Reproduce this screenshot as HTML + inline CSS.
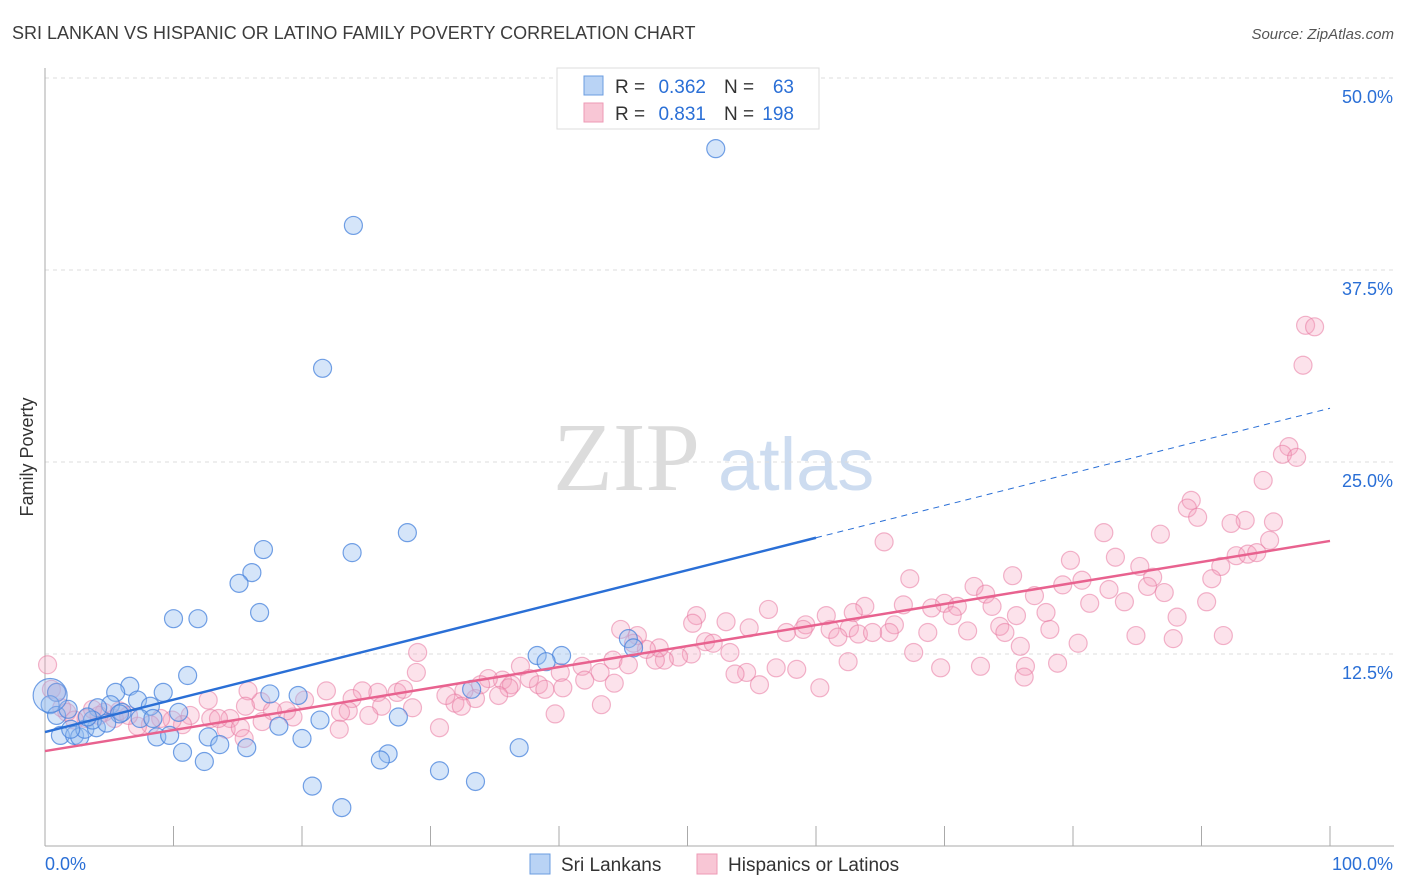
<!DOCTYPE html>
<html><head><meta charset="utf-8"><style>
body{margin:0;background:#fff;font-family:"Liberation Sans",sans-serif;}
svg{display:block}
</style></head><body>
<svg id="chart" width="1406" height="892">
<text x="12" y="39" font-size="18" fill="#3c3c3c">SRI LANKAN VS HISPANIC OR LATINO FAMILY POVERTY CORRELATION CHART</text>
<text x="1394" y="39" font-size="15" fill="#555" text-anchor="end" font-style="italic">Source: ZipAtlas.com</text>
<text transform="translate(33,457) rotate(-90)" font-size="18" fill="#333" text-anchor="middle">Family Poverty</text>
<text x="553" y="490" font-size="98" fill="#dcdcdc" font-family="Liberation Serif,serif">ZIP</text>
<text x="718" y="490" font-size="74" fill="#cddcf0">atlas</text>
<g id="grid"></g><g id="axes"></g><g id="pts"></g><g id="lines"></g>
<g>
<rect x="557" y="68" width="262" height="61" fill="#fff" stroke="#ddd"/>
<rect x="584" y="76" width="19" height="19" fill="#b9d3f5" stroke="#6b9de0"/>
<rect x="584" y="103" width="19" height="19" fill="#f8c6d5" stroke="#ee9ab5"/>
<text x="615" y="93" font-size="19" fill="#333">R =</text>
<text x="706" y="93" font-size="19" fill="#2a6fd6" text-anchor="end">0.362</text>
<text x="724" y="93" font-size="19" fill="#333">N =</text>
<text x="794" y="93" font-size="19" fill="#2a6fd6" text-anchor="end">63</text>
<text x="615" y="120" font-size="19" fill="#333">R =</text>
<text x="706" y="120" font-size="19" fill="#2a6fd6" text-anchor="end">0.831</text>
<text x="724" y="120" font-size="19" fill="#333">N =</text>
<text x="794" y="120" font-size="19" fill="#2a6fd6" text-anchor="end">198</text>
</g>
<g>
<rect x="530" y="854" width="20" height="20" fill="#b9d3f5" stroke="#6b9de0"/>
<text x="561" y="871" font-size="19" fill="#333">Sri Lankans</text>
<rect x="697" y="854" width="20" height="20" fill="#f8c6d5" stroke="#ee9ab5"/>
<text x="728" y="871" font-size="19" fill="#333">Hispanics or Latinos</text>
</g>
</svg>
<script>
const yTicks=[12.5,25.0,37.5,50.0];
const xTickLabels=["0.0%","100.0%"];
const blueX=[52.2,24.0,21.6,28.2,23.9,17.0,16.1,15.1,16.7,10.0,11.9,11.1,6.6,5.5,9.2,7.2,5.1,4.1,8.2,10.4,6.0,7.4,8.4,0.9,0.4,0.9,1.8,1.2,2.3,2.7,3.1,4.0,3.7,8.7,9.7,12.7,10.7,12.4,13.6,15.7,17.5,19.7,18.2,20.0,21.4,27.5,33.2,38.3,40.2,39.0,45.4,45.8,36.9,26.7,26.1,30.7,33.5,20.8,23.1,3.3,5.8,2.0,4.8];
const blueY=[45.4,40.4,31.1,20.4,19.1,19.3,17.8,17.1,15.2,14.8,14.8,11.1,10.4,10.0,10.0,9.5,9.2,9.0,9.1,8.7,8.7,8.3,8.3,10.0,9.2,8.5,8.9,7.2,7.2,7.1,7.6,7.7,8.2,7.1,7.2,7.1,6.1,5.5,6.6,6.4,9.9,9.8,7.8,7.0,8.2,8.4,10.2,12.4,12.4,12.0,13.5,12.9,6.4,6.0,5.6,4.9,4.2,3.9,2.5,8.4,8.6,7.6,8.0];
const pinkX=[98.1,98.8,97.9,96.8,96.3,97.4,94.8,89.2,88.9,89.7,93.4,92.3,95.6,82.4,86.8,65.3,95.3,92.7,93.6,94.3,91.5,83.3,79.8,85.2,90.8,86.2,85.8,87.1,80.7,82.8,79.2,81.3,84.0,77.0,75.3,72.3,73.2,70.0,71.0,67.3,66.8,63.8,62.9,60.8,62.6,61.1,63.3,59.2,59.0,66.1,69.0,70.6,73.7,77.9,75.6,74.3,74.7,71.8,68.7,78.2,80.4,75.9,67.6,65.7,64.4,61.7,57.7,56.3,54.8,53.0,50.7,50.4,51.4,52.0,50.3,53.3,49.3,48.2,47.5,47.8,46.8,46.1,44.8,45.8,44.2,45.4,41.8,43.2,44.3,42.0,40.1,40.3,38.4,38.9,37.0,35.6,36.3,37.7,36.1,34.5,35.3,33.5,33.9,32.6,31.9,32.4,31.2,29.0,28.9,28.6,27.4,27.9,25.9,26.2,24.7,23.9,23.6,25.2,23.0,21.9,20.2,19.3,18.8,16.8,17.7,15.8,16.9,15.6,14.4,14.1,12.9,12.7,13.5,11.3,10.7,9.9,9.0,8.2,7.2,6.5,5.4,4.6,4.2,3.2,1.7,1.3,0.5,0.2,0.9,2.3,3.7,5.8,15.2,15.5,22.9,30.7,39.7,43.3,60.3,54.6,55.6,53.7,56.9,58.5,62.5,69.7,72.8,76.3,78.8,76.2,84.9,87.8,91.7,90.4,88.1];
const pinkY=[33.9,33.8,31.3,26.0,25.5,25.3,23.8,22.5,22.0,21.4,21.2,21.0,21.1,20.4,20.3,19.8,19.9,18.9,19.0,19.1,18.2,18.8,18.6,18.2,17.4,17.5,16.9,16.5,17.3,16.7,17.0,15.8,15.9,16.3,17.6,16.9,16.4,15.8,15.6,17.4,15.7,15.6,15.2,15.0,14.2,14.1,13.8,14.4,14.1,14.4,15.5,15.0,15.6,15.2,15.0,14.3,13.9,14.0,13.9,14.1,13.2,13.0,12.6,13.9,13.9,13.6,13.9,15.4,14.2,14.6,15.0,14.5,13.3,13.2,12.5,12.6,12.3,12.1,12.1,12.9,12.8,13.7,14.1,13.2,12.1,11.8,11.7,11.3,10.6,10.8,11.3,10.3,10.5,10.2,11.7,10.8,10.5,10.9,10.3,10.9,9.8,9.6,10.5,10.1,9.3,9.1,9.8,12.6,11.3,9.0,10.0,10.2,10.0,9.1,10.1,9.6,8.8,8.5,8.7,10.1,9.5,8.4,8.8,9.4,8.8,10.1,8.1,9.1,8.3,7.6,8.3,9.5,8.3,8.5,7.9,8.2,8.3,7.9,7.8,8.5,8.3,8.7,8.5,8.3,8.7,9.0,10.2,11.8,10.0,8.2,8.9,8.8,7.7,7.0,7.6,7.7,8.6,9.2,10.3,11.3,10.5,11.2,11.6,11.5,12.0,11.6,11.7,11.7,11.9,11.0,13.7,13.5,13.7,15.9,14.9];
const blueFit=[7.42,28.5];
const pinkFit=[6.18,19.86];
const NS="http://www.w3.org/2000/svg";
const X0=45,X1=1330,Y0=846,PXPER=15.36;
const sx=v=>X0+(X1-X0)*v/100;
const sy=v=>Y0-v*PXPER;
function mk(tag,attrs,parent){const e=document.createElementNS(NS,tag);for(const k in attrs)e.setAttribute(k,attrs[k]);document.getElementById(parent).appendChild(e);return e;}
yTicks.forEach(t=>{
 const g=mk('line',{x1:45,x2:1394,y1:sy(t),y2:sy(t),stroke:'#ddd','stroke-dasharray':'4,4'},'grid');
 
 
 const l=mk('text',{x:1393,y:sy(t)+25,'font-size':18,fill:'#2a6fd6','text-anchor':'end'},'grid');
 l.textContent=t.toFixed(1)+'%';
 
 
});
const ax=mk('line',{x1:45,x2:45,y1:68,y2:846,stroke:'#aaa'},'axes');


const bx=mk('line',{x1:45,x2:1394,y1:846,y2:846,stroke:'#aaa'},'axes');


for(let i=0;i<=10;i++){
 const t=mk('line',{x1:sx(i*10),x2:sx(i*10),y1:826,y2:846,stroke:'#aaa'},'axes');
 
 
}
const xl0=mk('text',{x:45,y:870,'font-size':18,fill:'#2a6fd6'},'axes');xl0.textContent=xTickLabels[0];


const xl1=mk('text',{x:1393,y:870,'font-size':18,fill:'#2a6fd6','text-anchor':'end'},'axes');xl1.textContent=xTickLabels[1];


pinkX.forEach((x,i)=>{
 const c=mk('circle',{cx:sx(x),cy:sy(pinkY[i]),r:9,fill:'rgba(244,160,188,0.3)',stroke:'rgba(232,120,160,0.55)','stroke-width':1.2},'pts');
 
 
});
blueX.forEach((x,i)=>{
 const c=mk('circle',{cx:sx(x),cy:sy(blueY[i]),r:9,fill:'rgba(150,190,240,0.4)',stroke:'rgba(70,130,220,0.75)','stroke-width':1.2},'pts');
 
 
});
const big=mk('circle',{cx:sx(0.4),cy:sy(9.8),r:17,fill:'rgba(150,190,240,0.35)',stroke:'rgba(70,130,220,0.75)','stroke-width':1.2},'pts');


const bf=v=>blueFit[0]+(blueFit[1]-blueFit[0])*v/100;
const pf=v=>pinkFit[0]+(pinkFit[1]-pinkFit[0])*v/100;
const l1=mk('line',{x1:sx(0),y1:sy(bf(0)),x2:sx(60),y2:sy(bf(60)),stroke:'#2a6fd6','stroke-width':2.5},'lines');


const l2=mk('line',{x1:sx(60),y1:sy(bf(60)),x2:sx(100),y2:sy(bf(100)),stroke:'#2a6fd6','stroke-width':1,'stroke-dasharray':'6,5'},'lines');


const l3=mk('line',{x1:sx(0),y1:sy(pf(0)),x2:sx(100),y2:sy(pf(100)),stroke:'#e8628f','stroke-width':2.5},'lines');


</script>
</body></html>
